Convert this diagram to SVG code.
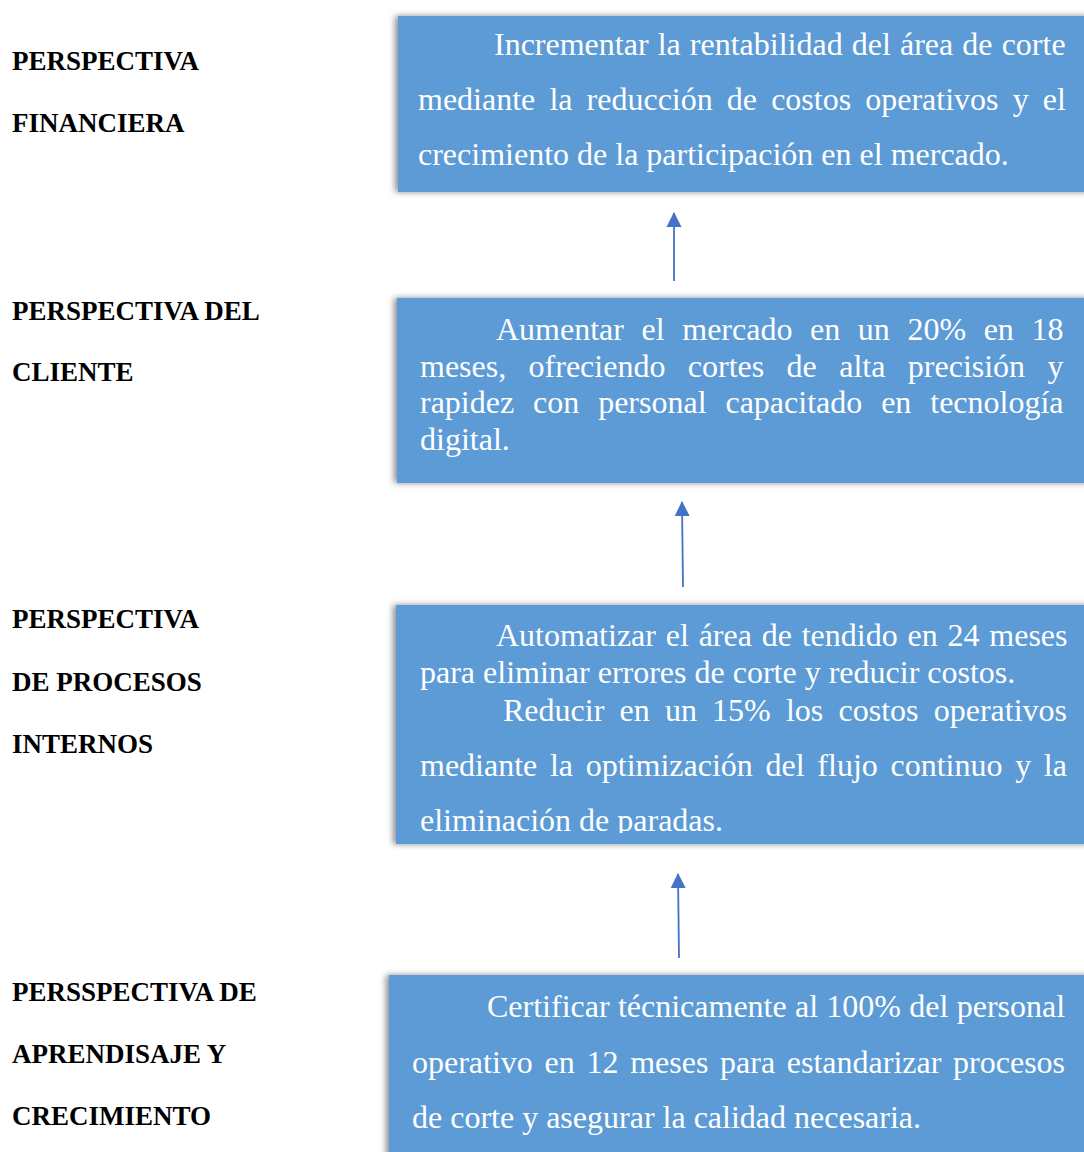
<svg xmlns="http://www.w3.org/2000/svg" width="1084" height="1152" viewBox="0 0 1084 1152">
  <style>
    .lbl { font-family: "Liberation Serif", "Times New Roman", serif; font-weight: bold; font-size: 27px; fill: #000; }
    .box { fill: #5B9BD5; filter: url(#shadow); }
    .txt { font-family: "Liberation Serif", "Times New Roman", serif; font-size: 32px; fill: #FFFFFF; }
    .conn { stroke: #4472C4; stroke-width: 1.8; fill: none; marker-end: url(#arrow); }
  </style>
  <defs>
    <filter id="shadow" x="-10%" y="-20%" width="120%" height="140%">
      <feGaussianBlur in="SourceAlpha" stdDeviation="3"/>
      <feOffset dx="-3" dy="0" result="b"/>
      <feFlood flood-color="#000" flood-opacity="0.45"/>
      <feComposite in2="b" operator="in"/>
      <feMerge><feMergeNode/><feMergeNode in="SourceGraphic"/></feMerge>
    </filter>
    <marker id="arrow" markerWidth="16" markerHeight="16" refX="14" refY="8" orient="auto" markerUnits="userSpaceOnUse" viewBox="0 0 16 16">
      <path d="M0,0.5 L15,8 L0,15.5 Z" fill="#4472C4"/>
    </marker>
    <clipPath id="clip3"><rect x="395" y="605" width="689" height="228"/></clipPath>
  </defs>
  <rect width="1084" height="1152" fill="#FFFFFF"/>

  <g id="labels">
    <g id="label-financiera">
      <text class="lbl" x="12" y="70">PERSPECTIVA</text>
      <text class="lbl" x="12" y="132">FINANCIERA</text>
    </g>
    <g id="label-cliente">
      <text class="lbl" x="12" y="320">PERSPECTIVA DEL</text>
      <text class="lbl" x="12" y="381">CLIENTE</text>
    </g>
    <g id="label-procesos">
      <text class="lbl" x="12" y="628">PERSPECTIVA</text>
      <text class="lbl" x="12" y="691">DE PROCESOS</text>
      <text class="lbl" x="12" y="753">INTERNOS</text>
    </g>
    <g id="label-aprendizaje">
      <text class="lbl" x="12" y="1001">PERSSPECTIVA DE</text>
      <text class="lbl" x="12" y="1063">APRENDISAJE Y</text>
      <text class="lbl" x="12" y="1125">CRECIMIENTO</text>
    </g>
  </g>

  <g id="node-financiera">
    <rect class="box" x="398" y="16" width="700" height="176"/>
    <text class="txt" x="494" y="55" word-spacing="1.1">Incrementar la rentabilidad del área de corte</text>
    <text class="txt" x="418" y="110" word-spacing="6.1">mediante la reducción de costos operativos y el</text>
    <text class="txt" x="418" y="165">crecimiento de la participación en el mercado.</text>
  </g>

  <g id="node-cliente">
    <rect class="box" x="397" y="298" width="700" height="185"/>
    <text class="txt" x="496" y="340" word-spacing="9.6">Aumentar el mercado en un 20% en 18</text>
    <text class="txt" x="420" y="377" word-spacing="14.4">meses, ofreciendo cortes de alta precisión y</text>
    <text class="txt" x="420" y="413" word-spacing="10.9">rapidez con personal capacitado en tecnología</text>
    <text class="txt" x="420" y="450">digital.</text>
  </g>

  <g id="node-procesos">
    <rect class="box" x="396" y="605" width="700" height="239"/>
    <g clip-path="url(#clip3)">
      <text class="txt" x="496" y="646" word-spacing="1.8">Automatizar el área de tendido en 24 meses</text>
      <text class="txt" x="420" y="683">para eliminar errores de corte y reducir costos.</text>
      <text class="txt" x="503" y="721" word-spacing="7.2">Reducir en un 15% los costos operativos</text>
      <text class="txt" x="420" y="776" word-spacing="4.7">mediante la optimización del flujo continuo y la</text>
      <text class="txt" x="420" y="831">eliminación de paradas.</text>
    </g>
  </g>

  <g id="node-aprendizaje">
    <rect class="box" x="389" y="975" width="710" height="190"/>
    <text class="txt" x="487" y="1017" word-spacing="0.3">Certificar técnicamente al 100% del personal</text>
    <text class="txt" x="412" y="1073" word-spacing="3.7">operativo en 12 meses para estandarizar procesos</text>
    <text class="txt" x="412" y="1128">de corte y asegurar la calidad necesaria.</text>
  </g>

  <g id="connectors">
    <line class="conn" x1="674" y1="281" x2="674" y2="213"/>
    <line class="conn" x1="683" y1="587" x2="682" y2="502"/>
    <line class="conn" x1="679" y1="958" x2="678" y2="874"/>
  </g>
</svg>
